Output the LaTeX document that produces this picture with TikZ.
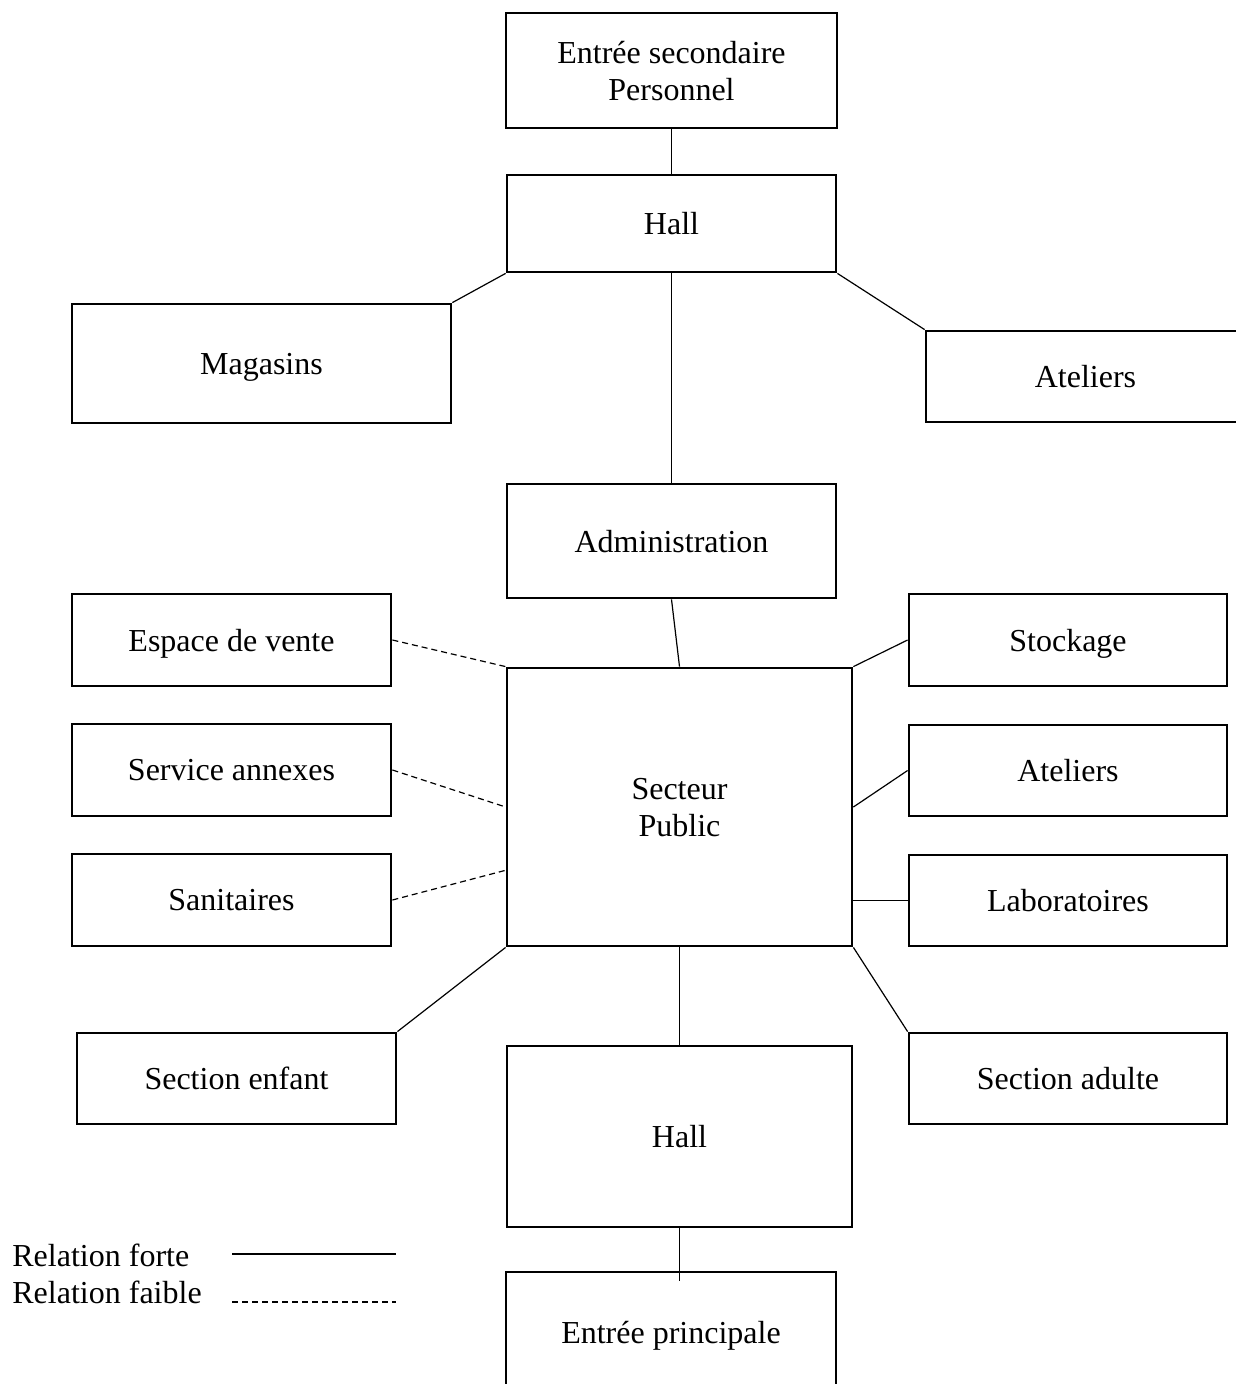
\documentclass[tikz,border=0pt]{standalone}
\usepackage{fontspec}
\setmainfont{Liberation Serif}
\begin{document}
\begin{tikzpicture}[x=0.5pt,y=-0.5pt,
    box/.style={draw, line width=1.4pt, rectangle, inner sep=0pt, align=center,
                text depth=0pt, font=\fontsize{16}{18.5}\selectfont},
    forte/.style={draw, line width=0.6pt},
    faible/.style={draw, line width=0.6pt, dash pattern=on 3pt off 2pt}]
    \useasboundingbox (0,0) rectangle (1235,1384);

    \node[box, minimum width=165.5pt, minimum height=57.5pt] (entreeS) at (671.5,70.5) {Entrée secondaire\\Personnel};
    \node[box, minimum width=164.5pt, minimum height=48.5pt] (hallA) at (671.5,223.5) {Hall};
    \node[box, minimum width=189.5pt, minimum height=59.5pt] (magasins) at (261.5,363.5) {Magasins};
    \node[box, minimum width=159.5pt, minimum height=45.5pt] (ateliersA) at (1085.5,376.5) {Ateliers};
    \node[box, minimum width=164.5pt, minimum height=57pt] (admin) at (671.5,541) {Administration};

    \node[box, minimum width=159.5pt, minimum height=46pt] (espace) at (231.5,640) {Espace de vente};
    \node[box, minimum width=159.5pt, minimum height=46pt] (service) at (231.5,770) {Service annexes};
    \node[box, minimum width=159.5pt, minimum height=46pt] (sanitaires) at (231.5,900) {Sanitaires};
    \node[box, minimum width=172.5pt, minimum height=139pt] (secteur) at (679.5,807) {Secteur\\Public};
    \node[box, minimum width=159pt, minimum height=46pt] (stockage) at (1068,640) {Stockage};
    \node[box, minimum width=159pt, minimum height=45.5pt] (ateliersB) at (1068,770.5) {Ateliers};
    \node[box, minimum width=159pt, minimum height=45.5pt] (labo) at (1068,900.5) {Laboratoires};

    \node[box, minimum width=159.5pt, minimum height=45.5pt] (enfant) at (236.5,1078.5) {Section enfant};
    \node[box, minimum width=159pt, minimum height=45.5pt] (adulte) at (1068,1078.5) {Section adulte};
    \node[box, minimum width=172.5pt, minimum height=90.5pt] (hallB) at (679.5,1136.5) {Hall};
    \node[box, minimum width=165pt, minimum height=60pt] (entreeP) at (671,1332) {Entrée principale};

    \path [forte] (entreeS) edge (hallA);
    \path [forte] (hallA.south west) edge (magasins.north east);
    \path [forte] (hallA.south east) edge (ateliersA.north west);
    \path [forte] (hallA) edge (admin);
    \path [forte] (admin.south) edge (secteur.north);
    \path [faible] (espace.east) edge (secteur.north west);
    \path [faible] (service.east) edge (secteur.west);
    \path [faible] (sanitaires.east) edge (secteur.200);
    \path [forte] (secteur.north east) edge (stockage.west);
    \path [forte] (secteur.east) edge (ateliersB.west);
    \path [forte] (labo.west -| secteur.east) edge (labo.west);
    \path [forte] (secteur.south west) edge (enfant.north east);
    \path [forte] (secteur.south east) edge (adulte.north west);
    \path [forte] (secteur.south) edge (hallB.north);
    \coordinate (pBout) at ([yshift=-5pt]hallB.south |- entreeP.north);
    \path [forte] (hallB.south) edge (pBout);

    % legende
    \node[anchor=base west, inner sep=0pt, font=\fontsize{16}{18.5}\selectfont] (lForte) at (12,1266) {Relation forte};
    \node[anchor=base west, inner sep=0pt, font=\fontsize{16}{18.5}\selectfont] (lFaible) at (12,1303) {Relation faible};
    \coordinate (fA) at (232,1254);
    \coordinate (fB) at (396,1254);
    \coordinate (fC) at (232,1302);
    \coordinate (fD) at (396,1302);
    \path [forte] (fA) edge (fB);
    \path [faible] (fC) edge (fD);
\end{tikzpicture}
\end{document}
